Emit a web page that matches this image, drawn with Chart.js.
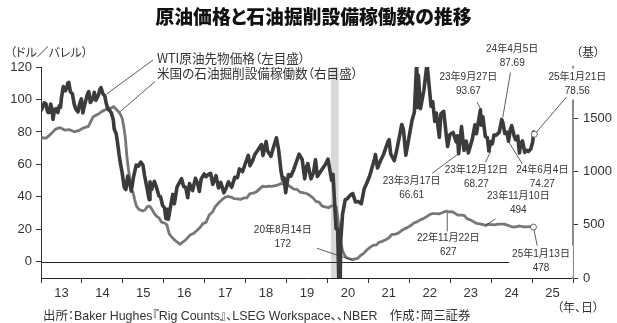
<!DOCTYPE html>
<html lang="ja">
<head>
<meta charset="utf-8">
<script src="https://cdn.jsdelivr.net/npm/chart.js@4"></script>
<style>
  html, body { margin: 0; padding: 0; background: #fff; }
  #wrap { position: relative; width: 617px; height: 323px; overflow: hidden; }
  #c { position: absolute; left: 0; top: 0; }
  .t { position: absolute; white-space: nowrap; line-height: 1; color: #333;
       font-family: 'Noto Sans CJK JP', 'Liberation Sans', sans-serif;
       font-feature-settings: "palt"; }
  #title { left: 0; width: 627px; text-align: center; top: 7px; font-size: 18.8px; font-weight: 900; color: #111; }
  #unitL { left: 10px; top: 46px; font-size: 12px; }
  #unitR { left: 576px; top: 46px; font-size: 12px; }
  #leg1 { left: 157px; top: 52px; font-size: 12.6px; }
  #leg2 { left: 157px; top: 67px; font-size: 12.6px; }
  #unitX { left: 557px; top: 301px; font-size: 12px; }
  #src { left: 43px; top: 310px; font-size: 12.4px; font-family: 'Liberation Sans', 'Noto Sans CJK JP', sans-serif; }
</style>
</head>
<body>
<div id="wrap">
  <canvas id="c" width="617" height="323"></canvas>
  <div class="t" id="title">原油価格と石油掘削設備稼働数の推移</div>
  <div class="t" id="unitL">（ドル／バレル）</div>
  <div class="t" id="unitR">（基）</div>
  <div class="t" id="leg1">WTI原油先物価格（左目盛）</div>
  <div class="t" id="leg2">米国の石油掘削設備稼働数（右目盛）</div>
  <div class="t" id="unitX">（年、日）</div>
  <div class="t" id="src">出所：Baker Hughes『Rig Counts』、LSEG Workspace、、NBER　作成：岡三証券</div>
</div>
<script>
// WTI crude futures, USD per barrel
const wtiDates = [
  '2013-01-02','2013-01-18','2013-01-30','2013-02-14','2013-02-27','2013-03-08','2013-03-19','2013-03-28','2013-04-09','2013-04-18',
  '2013-05-02','2013-05-15','2013-05-31','2013-06-12','2013-06-24','2013-07-03','2013-07-19','2013-08-06','2013-08-19','2013-08-28',
  '2013-09-06','2013-09-20','2013-10-08','2013-10-24','2013-11-07','2013-11-27','2013-12-12','2013-12-27',
  '2014-01-09','2014-01-28','2014-02-19','2014-03-03','2014-03-17','2014-04-07','2014-04-21','2014-05-06','2014-05-28','2014-06-12',
  '2014-06-20','2014-07-08','2014-07-23','2014-08-07','2014-08-21','2014-09-05','2014-09-22','2014-10-08','2014-10-16','2014-11-03',
  '2014-11-13','2014-11-28','2014-12-10','2014-12-26',
  '2015-01-13','2015-01-28','2015-02-13','2015-02-27','2015-03-17','2015-04-06','2015-04-30','2015-05-20','2015-06-10','2015-06-30',
  '2015-07-14','2015-08-05','2015-08-24','2015-08-31','2015-09-15','2015-10-09','2015-10-28','2015-11-18','2015-12-04','2015-12-21',
  '2016-01-08','2016-01-20','2016-02-04','2016-02-11','2016-03-08','2016-03-22','2016-04-05','2016-04-28','2016-05-26','2016-06-08',
  '2016-06-27','2016-07-15','2016-08-02','2016-08-18','2016-09-15','2016-10-10','2016-10-28','2016-11-14','2016-12-01','2016-12-28',
  '2017-01-13','2017-02-03','2017-02-23','2017-03-14','2017-04-12','2017-05-04','2017-05-25','2017-06-21','2017-07-12','2017-08-01',
  '2017-08-30','2017-09-26','2017-10-20','2017-11-07','2017-12-05','2017-12-29',
  '2018-01-25','2018-02-09','2018-03-06','2018-03-23','2018-04-18','2018-05-22','2018-06-05','2018-07-03','2018-07-17','2018-08-15',
  '2018-09-04','2018-10-03','2018-10-22','2018-11-13','2018-11-28','2018-12-11','2018-12-24',
  '2019-01-18','2019-02-08','2019-03-05','2019-04-23','2019-05-20','2019-06-12','2019-06-28','2019-07-10','2019-08-07','2019-08-30',
  '2019-09-16','2019-10-03','2019-11-12','2019-12-16',
  '2020-01-06','2020-01-22','2020-02-07','2020-02-20','2020-03-09','2020-03-18','2020-04-01','2020-04-20','2020-04-28','2020-05-15',
  '2020-06-08','2020-06-25','2020-07-20','2020-08-14','2020-09-08','2020-10-02','2020-10-30','2020-11-24','2020-12-17',
  '2021-01-13','2021-02-24','2021-03-05','2021-03-23','2021-04-20','2021-05-17','2021-06-25','2021-07-05','2021-07-19','2021-08-20',
  '2021-09-09','2021-10-26','2021-11-10','2021-12-01','2021-12-29',
  '2022-01-26','2022-02-15','2022-03-08','2022-03-16','2022-03-23','2022-04-11','2022-05-11','2022-06-08','2022-07-14','2022-07-29',
  '2022-08-16','2022-08-30','2022-09-26','2022-10-10','2022-11-04','2022-11-28','2022-12-09','2022-12-29',
  '2023-01-27','2023-02-22','2023-03-07','2023-03-17','2023-04-12','2023-05-04','2023-05-24','2023-06-12','2023-07-18','2023-08-09',
  '2023-08-23','2023-09-27','2023-10-05','2023-10-19','2023-11-10','2023-11-28','2023-12-12','2023-12-27',
  '2024-01-12','2024-01-26','2024-02-15','2024-03-13','2024-04-05','2024-04-16','2024-05-02','2024-05-20','2024-06-04','2024-06-20',
  '2024-07-03','2024-07-26','2024-08-07','2024-08-26','2024-09-10','2024-09-20','2024-10-07','2024-10-28','2024-11-14','2024-11-29',
  '2024-12-20','2025-01-06','2025-01-15','2025-01-21'
];
const wtiValues = [
  93.1, 95.6, 97.9, 97.3, 92.8, 91.9, 92.2, 97.2, 94.2, 87.7,
  93.8, 94.3, 91.9, 95.9, 95.2, 101.2, 108.0, 105.3, 107.1, 110.1,
  110.5, 104.7, 103.5, 97.1, 94.2, 92.3, 97.5, 100.3,
  91.7, 97.4, 103.3, 104.9, 98.1, 100.4, 104.4, 99.5, 102.7, 106.5,
  107.3, 103.4, 102.4, 97.3, 93.9, 93.3, 91.5, 87.3, 81.8, 78.8,
  74.2, 66.2, 60.9, 54.7,
  46.0, 44.5, 52.8, 49.8, 43.5, 52.1, 59.6, 58.9, 61.4, 59.5,
  53.0, 45.2, 38.2, 49.2, 44.6, 49.6, 45.9, 40.7, 39.9, 34.7,
  33.2, 26.6, 32.3, 26.2, 36.5, 41.5, 35.7, 46.0, 49.5, 51.2,
  46.3, 45.9, 39.5, 48.2, 43.9, 51.4, 48.7, 43.3, 51.1, 54.1,
  52.4, 53.8, 54.5, 47.7, 53.1, 45.5, 48.9, 42.5, 45.5, 49.2,
  45.9, 52.0, 51.8, 57.2, 55.6, 60.4,
  65.5, 59.2, 62.6, 65.9, 68.5, 72.2, 65.5, 74.1, 68.1, 65.0,
  69.9, 76.4, 69.2, 55.7, 50.3, 51.6, 42.5,
  53.8, 52.7, 56.6, 66.3, 63.1, 51.1, 58.5, 60.4, 51.1, 55.1,
  62.9, 52.5, 56.8, 60.2,
  63.3, 56.7, 50.3, 53.8, 31.1, 20.4, 20.3, -37.6, 12.3, 29.4,
  38.2, 38.7, 40.8, 42.0, 36.8, 37.1, 35.8, 44.9, 48.4,
  53.0, 63.2, 66.1, 57.8, 62.4, 66.3, 74.1, 75.2, 66.4, 62.3,
  68.1, 84.6, 81.3, 65.6, 76.6,
  87.4, 92.1, 123.7, 95.0, 114.9, 94.3, 105.7, 122.1, 95.8, 98.6,
  86.5, 91.6, 76.7, 91.1, 92.6, 77.2, 71.0, 78.4,
  79.7, 73.9, 77.6, 66.61, 83.3, 68.6, 74.3, 67.1, 75.8, 84.4,
  78.9, 93.67, 84.2, 89.4, 77.2, 76.4, 68.27, 74.1,
  72.7, 78.0, 78.0, 79.7, 87.69, 85.4, 79.0, 79.8, 74.27, 81.3,
  83.9, 77.2, 75.2, 77.4, 67.0, 71.9, 74.5, 67.4, 68.7, 68.0,
  69.5, 73.6, 80.0, 78.56
];

// US oil rig count (Baker Hughes), rigs
const rigDates = [
  '2013-01-04','2013-02-15','2013-03-29','2013-05-10','2013-06-21','2013-08-02','2013-09-13','2013-10-25','2013-12-06',
  '2014-01-17','2014-02-28','2014-04-11','2014-05-23','2014-07-03','2014-08-15','2014-09-26','2014-10-10','2014-11-07','2014-12-05','2014-12-26',
  '2015-01-09','2015-01-23','2015-02-06','2015-02-20','2015-03-06','2015-03-20','2015-04-02','2015-04-17','2015-05-01','2015-05-22',
  '2015-06-12','2015-06-26','2015-07-17','2015-08-07','2015-08-28','2015-09-18','2015-10-09','2015-10-30','2015-11-20','2015-12-11',
  '2016-01-08','2016-01-29','2016-02-19','2016-03-11','2016-04-01','2016-04-22','2016-05-13','2016-05-27','2016-06-17','2016-07-08',
  '2016-07-29','2016-08-26','2016-09-23','2016-10-21','2016-11-18','2016-12-16',
  '2017-01-13','2017-02-10','2017-03-10','2017-04-07','2017-05-05','2017-06-02','2017-06-30','2017-07-28','2017-08-25','2017-09-22',
  '2017-10-20','2017-11-17','2017-12-15',
  '2018-01-12','2018-02-09','2018-03-09','2018-04-06','2018-05-04','2018-06-01','2018-06-29','2018-07-27','2018-08-24','2018-09-21',
  '2018-10-19','2018-11-16','2018-12-14',
  '2019-01-11','2019-02-08','2019-03-08','2019-04-05','2019-05-03','2019-05-31','2019-06-28','2019-07-26','2019-08-23','2019-09-20',
  '2019-10-18','2019-11-15','2019-12-13',
  '2020-01-10','2020-02-07','2020-03-06','2020-03-20','2020-04-03','2020-04-17','2020-05-01','2020-05-15','2020-05-29','2020-06-12',
  '2020-06-26','2020-07-17','2020-08-14','2020-09-04','2020-09-25','2020-10-23','2020-11-20','2020-12-18',
  '2021-01-15','2021-02-12','2021-03-12','2021-04-09','2021-05-07','2021-06-04','2021-07-02','2021-07-30','2021-08-27','2021-09-24',
  '2021-10-22','2021-11-19','2021-12-17',
  '2022-01-14','2022-02-11','2022-03-11','2022-04-08','2022-05-06','2022-06-03','2022-07-01','2022-07-29','2022-08-26','2022-09-23',
  '2022-10-21','2022-11-22','2022-12-16',
  '2023-01-13','2023-02-10','2023-03-10','2023-04-06','2023-05-05','2023-06-02','2023-06-30','2023-07-28','2023-08-25','2023-09-22',
  '2023-10-20','2023-11-10','2023-12-08',
  '2024-01-05','2024-02-02','2024-03-01','2024-03-29','2024-04-26','2024-05-24','2024-06-21','2024-07-19','2024-08-16','2024-09-13',
  '2024-10-11','2024-11-08','2024-12-06','2025-01-03','2025-01-13'
];
const rigValues = [
  1316, 1312, 1350, 1397, 1411, 1387, 1392, 1372, 1385,
  1409, 1423, 1513, 1536, 1566, 1588, 1598, 1609, 1578, 1546, 1499,
  1421, 1317, 1140, 1019, 922, 825, 802, 734, 679, 646,
  635, 628, 638, 670, 675, 644, 605, 578, 564, 524,
  516, 498, 413, 386, 362, 343, 328, 316, 337, 351,
  374, 406, 418, 443, 471, 510,
  522, 591, 617, 672, 703, 733, 756, 766, 759, 744,
  743, 738, 751,
  752, 791, 796, 808, 834, 861, 858, 861, 860, 866,
  873, 888, 873,
  873, 854, 834, 831, 805, 800, 793, 776, 754, 719,
  712, 674, 667,
  659, 676, 682, 664, 562, 438, 325, 258, 222, 199,
  188, 181, 172, 180, 183, 211, 231, 263,
  287, 306, 310, 337, 344, 359, 376, 409, 410, 421,
  443, 461, 475,
  492, 516, 527, 546, 557, 574, 595, 605, 605, 602,
  612, 627, 620,
  623, 609, 590, 590, 588, 555, 545, 529, 512, 507,
  502, 494, 503,
  501, 499, 506, 506, 506, 497, 485, 477, 483, 488,
  481, 479, 482, 482, 478
];

// Axis ticks
const yearTicks = [2013, 2014, 2015, 2016, 2017, 2018, 2019, 2020, 2021, 2022, 2023, 2024, 2025, 2026];
const priceTicks = [0, 20, 40, 60, 80, 100, 120];
const rigTicks = [0, 500, 1000, 1500];

// NBER recession (start, end)
const recession = ['2020-02-01', '2020-04-10'];

// Annotated observations
const callouts = [
  { series: 'wti', date: '2023-03-17', value: 66.61, text: ['23年3月17日', '66.61'] },
  { series: 'wti', date: '2023-09-27', value: 93.67, text: ['23年9月27日', '93.67'] },
  { series: 'wti', date: '2023-12-12', value: 68.27, text: ['23年12月12日', '68.27'] },
  { series: 'wti', date: '2024-04-05', value: 87.69, text: ['24年4月5日', '87.69'] },
  { series: 'wti', date: '2024-06-04', value: 74.27, text: ['24年6月4日', '74.27'] },
  { series: 'wti', date: '2025-01-21', value: 78.56, text: ['25年1月21日', '78.56'] },
  { series: 'rig', date: '2020-08-14', value: 172, text: ['20年8月14日', '172'] },
  { series: 'rig', date: '2022-11-22', value: 627, text: ['22年11月22日', '627'] },
  { series: 'rig', date: '2023-11-10', value: 494, text: ['23年11月10日', '494'] },
  { series: 'rig', date: '2025-01-13', value: 478, text: ['25年1月13日', '478'] }
];
// Placement of each callout relative to its point, px: label centre (dx, dy), leader start (sx, sy), leader end (ex, ey)
const calloutLayout = [
  { dx: -47, dy: 28, sx: -26.6, sy: 19.7, ex: 0, ey: 0 },
  { dx: -12, dy: -32.5, sx: -3.3, sy: -7.6, ex: 0.5, ey: -0.5 },
  { dx: -12.5, dy: 19.6, sx: -3.5, sy: 11.3, ex: 2, ey: 0 },
  { dx: 10.4, dy: -70, sx: 8.7, sy: -47, ex: 1, ey: -2 },
  { dx: 33.8, dy: 29.3, sx: 13.8, sy: 22.6, ex: 0.4, ey: 1 },
  { dx: 43, dy: -56.7, sx: 32, sy: -37, ex: 2.2, ey: -2.2, bg: true },
  { dx: -70, dy: -29, sx: -35.7, sy: -11.3, ex: -0.7, ey: 0.4 },
  { dx: 2.5, dy: 26.8, sx: 1.5, sy: 20.2, ex: 1.5, ey: 1.8 },
  { dx: 33, dy: -29, sx: 10, sy: -6.3, ex: 0, ey: 0 },
  { dx: 7.6, dy: 27.6, sx: 3.8, sy: 18.6, ex: 0.6, ey: 3, bg: true }
];
// Legend leader lines: from text (px) to a point on each series
const legendLinks = [
  { series: 'wti', date: '2014-08-12', value: 103.5, from: [153, 60] },
  { series: 'rig', date: '2014-12-08', value: 1561, from: [155, 81.5] }
];

const toYear = s => {
  const [y, m, d] = s.split('-').map(Number);
  const a = Date.UTC(y, 0, 1), b = Date.UTC(y + 1, 0, 1);
  return y + (Date.UTC(y, m - 1, d) - a) / (b - a);
};

const WTI_COLOR = '#3b3b3b';
const RIG_COLOR = '#777777';
const TEXT_COLOR = '#333';
const TICK_FONT = { family: "'Liberation Sans', Arial, sans-serif", size: 13 };
const NOTE_FONT = "10px 'Liberation Sans', 'Noto Sans CJK JP', sans-serif";

const wtiPts = wtiDates.map((d, i) => ({ x: toYear(d), y: wtiValues[i] }));
const rigPts = rigDates.map((d, i) => ({ x: toYear(d), y: rigValues[i] }));

const axisOf = { wti: 'y', rig: 'y2' };

const backdrop = {
  id: 'backdrop',
  beforeDatasetsDraw(chart) {
    const { ctx, chartArea: a, scales } = chart;
    const x0 = scales.x.getPixelForValue(toYear(recession[0]));
    const x1 = scales.x.getPixelForValue(toYear(recession[1]));
    ctx.save();
    ctx.fillStyle = '#d9d9d9';
    ctx.fillRect(x0, a.top, x1 - x0, a.bottom - a.top);
    const y0 = Math.round(scales.y.getPixelForValue(0)) + 0.5;
    ctx.strokeStyle = '#222';
    ctx.lineWidth = 1.1;
    ctx.beginPath();
    ctx.moveTo(a.left, y0);
    ctx.lineTo(a.right, y0);
    ctx.stroke();
    ctx.restore();
  }
};

const notes = {
  id: 'notes',
  afterDraw(chart) {
    const { ctx, scales } = chart;
    const px = (series, date, value) => [
      scales.x.getPixelForValue(toYear(date)),
      scales[axisOf[series]].getPixelForValue(value)
    ];
    ctx.save();
    ctx.strokeStyle = '#333';
    ctx.lineWidth = 0.8;
    legendLinks.forEach(l => {
      const [x, y] = px(l.series, l.date, l.value);
      ctx.beginPath();
      ctx.moveTo(l.from[0], l.from[1]);
      ctx.lineTo(x, y);
      ctx.stroke();
    });
    ctx.font = NOTE_FONT;
    ctx.textAlign = 'center';
    ctx.textBaseline = 'middle';
    callouts.forEach((c, i) => {
      const L = calloutLayout[i];
      const [x, y] = px(c.series, c.date, c.value);
      const cx = x + L.dx, cy = y + L.dy;
      if (L.bg) {
        const w = Math.max(...c.text.map(t => ctx.measureText(t).width)) + 6;
        ctx.fillStyle = '#fff';
        ctx.fillRect(cx - w / 2, cy - 9, w, 14 * c.text.length + 3);
      }
      ctx.strokeStyle = '#333';
      ctx.beginPath();
      ctx.moveTo(x + L.sx, y + L.sy);
      ctx.lineTo(x + L.ex, y + L.ey);
      ctx.stroke();
      ctx.fillStyle = TEXT_COLOR;
      c.text.forEach((t, k) => ctx.fillText(t, cx, cy + k * 14));
    });
    ctx.restore();
  }
};

const lastOnly = n => ctx => (ctx.dataIndex === n - 1 ? 3 : 0);

new Chart(document.getElementById('c'), {
  type: 'line',
  data: {
    datasets: [
      {
        label: 'WTI原油先物価格（左目盛）',
        data: wtiPts,
        yAxisID: 'y',
        borderColor: WTI_COLOR,
        borderWidth: 3.6,
        borderJoinStyle: 'round',
        pointRadius: lastOnly(wtiPts.length),
        pointBackgroundColor: '#fff',
        pointBorderColor: '#666',
        pointBorderWidth: 1,
        tension: 0
      },
      {
        label: '米国の石油掘削設備稼働数（右目盛）',
        data: rigPts,
        yAxisID: 'y2',
        borderColor: RIG_COLOR,
        borderWidth: 2.8,
        borderJoinStyle: 'round',
        pointRadius: lastOnly(rigPts.length),
        pointBackgroundColor: '#fff',
        pointBorderColor: '#666',
        pointBorderWidth: 1,
        tension: 0
      }
    ]
  },
  options: {
    responsive: false,
    animation: false,
    devicePixelRatio: 1,
    layout: { padding: { top: 67, left: 0, right: 0, bottom: 0 } },
    plugins: { legend: { display: false }, tooltip: { enabled: false } },
    scales: {
      x: {
        type: 'linear',
        min: yearTicks[0],
        max: yearTicks[yearTicks.length - 1],
        afterBuildTicks: s => { s.ticks = yearTicks.map(v => ({ value: v })); },
        afterFit: s => { s.height = 45; },
        ticks: {
          autoSkip: false, maxRotation: 0, minRotation: 0,
          color: TEXT_COLOR, font: TICK_FONT, padding: 3,
          labelOffset: 20.46,
          callback: v => (v < yearTicks[yearTicks.length - 1] ? String(v % 100) : '')
        },
        grid: { drawOnChartArea: false, drawTicks: true, tickLength: 5, color: '#333' },
        border: { display: true, color: '#222', width: 1 }
      },
      y: {
        position: 'left',
        min: -10,
        max: 120,
        afterBuildTicks: s => { s.ticks = priceTicks.map(v => ({ value: v })); },
        afterFit: s => { s.width = 41; },
        ticks: { color: TEXT_COLOR, font: TICK_FONT, padding: 4, callback: v => String(v) },
        grid: { drawOnChartArea: false, drawTicks: true, tickLength: 5, color: '#333' },
        border: { display: true, color: '#333', width: 1 }
      },
      y2: {
        position: 'right',
        min: 0,
        max: 1980,
        afterBuildTicks: s => { s.ticks = rigTicks.map(v => ({ value: v })); },
        afterFit: s => { s.width = 44; },
        ticks: { color: TEXT_COLOR, font: TICK_FONT, padding: 5, callback: v => String(v) },
        grid: { drawOnChartArea: false, drawTicks: true, tickLength: 5, color: '#333' },
        border: { display: true, color: '#8a8a8a', width: 2 }
      }
    }
  },
  plugins: [backdrop, notes]
});
</script>
</body>
</html>
